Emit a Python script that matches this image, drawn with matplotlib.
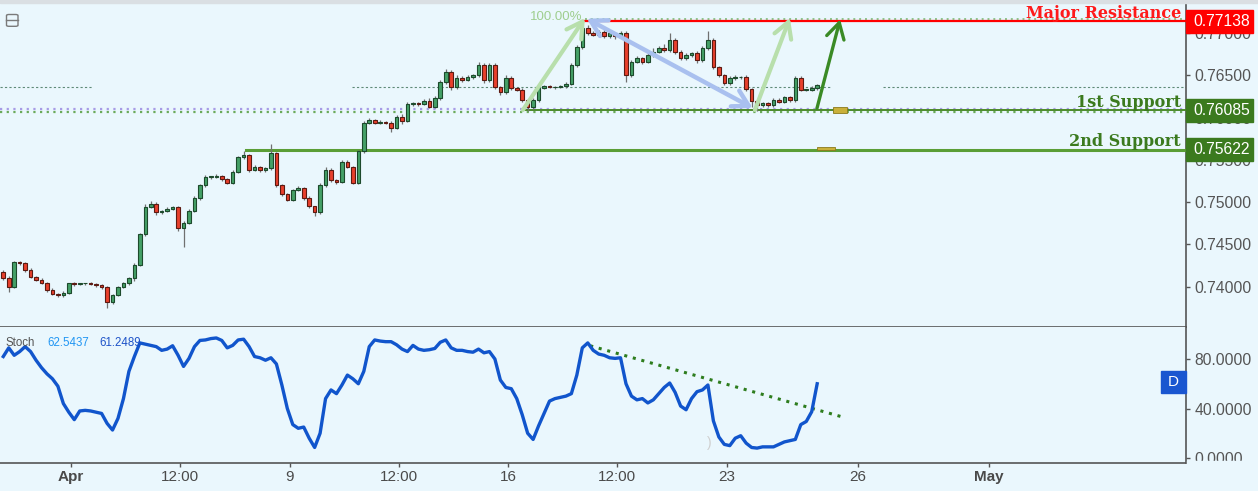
import matplotlib
matplotlib.use('Agg')
import matplotlib.pyplot as plt
from matplotlib.patches import Rectangle, FancyBboxPatch
import numpy as np

W, H = 1258, 491
BG = '#eaf7fd'
GRAY = '#555555'

# 3-hour candles, x measured in trading days from Mon Apr 2
first_bar_day = -1.55
bars_per_day = 8
first_open = 7418
# closes in 1e-4 units
closes = [
    7410, 7400, 7429, 7428, 7420, 7412, 7408, 7405, 7396, 7392,
    7390, 7393, 7404, 7403, 7404, 7404, 7403, 7402, 7400, 7382,
    7390, 7400, 7404, 7410, 7426, 7462, 7494, 7498, 7488, 7490,
    7492, 7494, 7469, 7476, 7490, 7505, 7520, 7530, 7530, 7531,
    7527, 7523, 7536, 7553, 7556, 7538, 7542, 7538, 7540, 7558,
    7520, 7510, 7503, 7514, 7517, 7505, 7495, 7488, 7520, 7538,
    7526, 7524, 7548, 7542, 7523, 7560, 7594, 7597, 7594, 7595,
    7594, 7588, 7601, 7596, 7616, 7617, 7616, 7620, 7613, 7623,
    7642, 7654, 7636, 7647, 7644, 7648, 7650, 7662, 7644, 7662,
    7636, 7630, 7647, 7635, 7633, 7621, 7612, 7621, 7635, 7637,
    7636, 7636, 7637, 7640, 7662, 7683, 7706, 7700, 7698, 7701,
    7696, 7700, 7696, 7700, 7650, 7666, 7670, 7666, 7674, 7678,
    7682, 7680, 7692, 7678, 7670, 7674, 7676, 7668, 7682, 7692,
    7660, 7650, 7641, 7647, 7648, 7648, 7634, 7620, 7615, 7617,
    7615, 7621, 7619, 7624, 7621, 7647, 7633, 7633, 7635, 7638,
]
# wick lengths above / below the body, in pips
wick_hi = [
    2, 3, 2, 2, 1, 2, 1, 2, 1, 2,
    1, 2, 1, 2, 1, 1, 2, 1, 1, 1,
    2, 1, 2, 2, 2, 2, 4, 3, 2, 1,
    2, 2, 1, 2, 2, 2, 2, 2, 1, 2,
    1, 2, 2, 2, 4, 1, 2, 1, 2, 11,
    1, 2, 1, 2, 2, 1, 2, 1, 3, 4,
    2, 1, 2, 2, 1, 2, 2, 2, 1, 2,
    1, 2, 2, 3, 2, 2, 1, 2, 3, 2,
    3, 4, 2, 3, 2, 2, 2, 4, 2, 3,
    2, 1, 3, 2, 1, 2, 1, 2, 2, 1,
    2, 1, 2, 2, 2, 3, 8, 3, 2, 2,
    2, 3, 1, 2, 2, 2, 3, 2, 2, 4,
    3, 5, 8, 2, 2, 2, 2, 3, 3, 10,
    2, 1, 2, 2, 2, 1, 2, 1, 1, 2,
    1, 2, 2, 2, 2, 2, 2, 1, 2, 2,
]
wick_lo = [
    2, 6, 2, 2, 2, 2, 1, 2, 2, 2,
    2, 2, 1, 2, 1, 2, 1, 2, 3, 7,
    2, 1, 2, 2, 3, 2, 2, 1, 3, 2,
    2, 1, 3, 22, 2, 2, 2, 2, 2, 1,
    2, 2, 2, 1, 2, 2, 1, 2, 2, 2,
    2, 3, 2, 2, 1, 2, 2, 4, 2, 2,
    2, 2, 1, 2, 2, 2, 2, 1, 2, 2,
    2, 5, 2, 3, 1, 2, 2, 1, 2, 2,
    2, 2, 3, 2, 2, 1, 2, 2, 3, 2,
    2, 3, 2, 2, 2, 3, 4, 2, 2, 1,
    1, 2, 1, 2, 2, 2, 2, 2, 2, 3,
    2, 2, 3, 2, 8, 2, 2, 3, 2, 2,
    2, 2, 2, 3, 2, 2, 2, 3, 2, 2,
    2, 2, 3, 2, 2, 2, 2, 8, 7, 2,
    2, 2, 2, 2, 2, 2, 2, 2, 2, 2,
]
stoch = [
    82, 89, 83, 86, 90, 86, 79, 73, 68, 64,
    58, 44, 37, 31, 38, 38.5, 38, 37, 36, 28,
    22.6, 32, 48, 70, 82, 93, 92, 91, 90, 87,
    88, 90.7, 83, 74, 80.5, 90, 95, 95.4, 96.5, 97,
    95, 89, 91, 95.4, 96, 90, 82, 81, 79, 81,
    76, 59, 40, 27, 24, 25, 16, 8.5, 20, 48,
    55, 52, 59, 67, 64, 60, 70, 90, 95.4, 94.5,
    94, 94, 91.5, 88, 86, 91, 88, 87, 87.5, 88.5,
    93.5, 95.4, 89, 87, 87, 86, 85.5, 88, 85, 86,
    80, 63, 57, 56, 48, 35, 20, 15, 26, 36,
    46, 48, 49, 50, 52, 67, 89, 93, 87, 84,
    83, 81, 80.5, 81, 60, 50, 47, 48, 44.5, 47,
    52, 57, 60.6, 53, 42, 39, 48, 53.6, 55, 59,
    30, 17, 11, 10, 16, 18, 12, 8.5, 8, 9,
    9, 9, 11, 13, 14, 15, 27, 29.5, 37.4, 60,
]
stoch_k, stoch_d = '62.5437', '61.2489'

levels = [0.77138, 0.76085, 0.75622]
level_names = ['Major Resistance', '1st Support', '2nd Support']
level_colors = ['#ff1a1a', '#3b7a1e', '#3b7a1e']
level_start = [11.72, 10.34, 4.0]
last_price = 0.76362

price_ticks = [0.740, 0.745, 0.750, 0.755, 0.760, 0.765, 0.770]
stoch_ticks = [0, 40, 80]
x_ticks = [0, 2.5, 5, 7.5, 10, 12.5, 15, 18, 21]
x_labels = ['Apr', '12:00', '9', '12:00', '16', '12:00', '23', '26', 'May']

# drawn pattern: (start day, start price, end day, end price)
leg_up1 = (10.34, 0.76090, 11.76, 0.77177)
leg_down = (11.80, 0.77170, 15.60, 0.76113)
leg_up2 = (15.65, 0.76090, 16.45, 0.77177)
leg_proj = (17.07, 0.76110, 17.60, 0.77160)
stoch_trend = ([11.88, 17.71], [90.7, 32.6])

plt.rcParams['font.family'] = ['Liberation Sans', 'DejaVu Sans']

fig = plt.figure(figsize=(W / 100, H / 100), dpi=100, facecolor=BG)
ax = fig.add_axes([0, 1 - 327 / H, 1186 / W, 324 / H], facecolor=BG)
sx = fig.add_axes([0, 1 - 463 / H, 1186 / W, 136 / H], facecolor=BG)

xmin, xmax = -1.625, 25.515
ax.set_xlim(xmin, xmax)
sx.set_xlim(xmin, xmax)
ax.set_ylim(0.735248, 0.773546)
sx.set_ylim(-4.04, 105.86)

# candles
xs = first_bar_day + np.arange(len(closes)) / bars_per_day
c = np.array(closes) * 1e-4
o = np.array([first_open] + closes[:-1]) * 1e-4
hi = np.maximum(o, c) + np.array(wick_hi) * 1e-4
lo = np.minimum(o, c) - np.array(wick_lo) * 1e-4
up = c >= o
body = np.maximum(np.abs(c - o), 0.00004)
bottom = np.minimum(o, c)
ax.vlines(xs, lo, hi, color='#707070', lw=0.9, zorder=4)
ax.bar(xs[up], body[up], bottom=bottom[up], width=0.082, color='#45a067',
       edgecolor='#1d4a2c', linewidth=0.8, zorder=5)
ax.bar(xs[~up], body[~up], bottom=bottom[~up], width=0.082, color='#e8402c',
       edgecolor='#5c1a12', linewidth=0.8, zorder=5)

# last price dashed line
for a, b in [(xmin, 0.5), (6.43, 17.37), (18.58, xmax)]:
    ax.plot([a, b], [last_price, last_price], color='#5f8a78', lw=0.8,
            ls=(0, (2, 2)), zorder=2)

# support / resistance
ax.plot([xmin, xmax], [0.76107, 0.76107], color='#a79be6', lw=1.6,
        ls=(0, (1, 2)), zorder=2)
ax.plot([xmin, xmax], [0.76062, 0.76062], color='#6aaa5a', lw=1.6,
        ls=(0, (1, 2)), zorder=2)
ax.plot([11.76, xmax], [0.77165, 0.77165], color='#8cc68c', lw=1.4,
        ls=(0, (1, 2)), zorder=2)
widths = [1.6, 1.4, 2.2]
line_cols = ['#ff0000', '#4c8a2a', '#5a9e36']
for lv, st, lc, lw in zip(levels, level_start, line_cols, widths):
    ax.plot([st, xmax], [lv, lv], color=lc, lw=lw, zorder=3)
for (x0, y0, w, h) in [(17.44, 0.76054, 0.32, 0.00071), (17.07, 0.75617, 0.41, 0.00035)]:
    ax.add_patch(Rectangle((x0, y0), w, h, facecolor='#c9b03a',
                           edgecolor='#8c7a1c', lw=0.6, zorder=3))

for name, lv, col in zip(level_names, levels, level_colors):
    ax.annotate(name, xy=(1181 / 1186, lv), xycoords=('axes fraction', 'data'),
                xytext=(0, 2.5), textcoords='offset points', ha='right',
                va='baseline', color=col, fontsize=11.5, fontweight='bold',
                family='DejaVu Serif', zorder=8)

# pattern arrows
def arrow(leg, col, lw, style='->'):
    ax.annotate('', xy=(leg[2], leg[3]), xytext=(leg[0], leg[1]),
                arrowprops=dict(arrowstyle=style + ',head_length=0.7,head_width=0.4',
                                color=col, lw=lw, shrinkA=0, shrinkB=0,
                                mutation_scale=16), zorder=6)

arrow(leg_up1, '#b8dfac', 3)
arrow(leg_down, '#a9c0ef', 3.2, '<->')
arrow(leg_up2, '#b8dfac', 3)
arrow(leg_proj, '#3a8a25', 2.4)
ax.text(11.70, 0.77185, '100.00%', ha='right', va='center', color='#9fce8f',
        fontsize=9.5, zorder=7)

# price axis
ax.yaxis.tick_right()
ax.set_yticks(price_ticks)
ax.set_yticklabels(['%.5f' % t for t in price_ticks])
ax.tick_params(axis='y', length=3, width=1, color=GRAY, labelcolor=GRAY,
               labelsize=11.3, pad=3)
ax.tick_params(axis='x', bottom=False, labelbottom=False)
for s in ['top', 'left']:
    ax.spines[s].set_visible(False)
for s in ['bottom', 'right']:
    ax.spines[s].set_color(GRAY)
    ax.spines[s].set_linewidth(1.2)

# stochastic panel
sx.plot(xs, stoch, color='#1155cc', lw=2.4, solid_joinstyle='round', zorder=4)
sx.plot(stoch_trend[0], stoch_trend[1], color='#2e7d1e', lw=2.2,
        ls=(0, (1, 1.9)), zorder=3)
sx.text(14.6, 12, ')', color='#cfcfcf', fontsize=10, ha='center', va='center')
sx.yaxis.tick_right()
sx.set_yticks(stoch_ticks)
sx.set_yticklabels(['%.4f' % t for t in stoch_ticks])
sx.tick_params(axis='y', length=3, width=1, color=GRAY, labelcolor=GRAY,
               labelsize=11.3, pad=3)
sx.set_xticks(x_ticks)
sx.set_xticklabels(x_labels)
sx.tick_params(axis='x', length=3, width=1, color=GRAY, labelcolor='#4a4a4a',
               labelsize=11, pad=2)
for lbl in sx.get_xticklabels():
    if lbl.get_text() in ('Apr', 'May'):
        lbl.set_fontweight('bold')
for s in ['top', 'left']:
    sx.spines[s].set_visible(False)
for s in ['bottom', 'right']:
    sx.spines[s].set_color(GRAY)
    sx.spines[s].set_linewidth(1.2)

# figure overlays
def fx(px):
    return px / W

def fy(py):
    return 1 - py / H

fig.add_artist(Rectangle((fx(1187), 0), fx(71), fy(461), transform=fig.transFigure,
                         color=BG, zorder=1))
fig.add_artist(Rectangle((0, fy(3)), 1, 3 / H, transform=fig.transFigure,
                         color='#dadfe3', zorder=1))
box_cols = ['#ff0000', '#3b7a1e', '#3b7a1e']
for lv, bc in zip(levels, box_cols):
    yd = ax.transData.transform((0, lv))[1]
    fig.add_artist(Rectangle((fx(1186), (yd - 11.5) / H), fx(67), 23 / H,
                             transform=fig.transFigure, color=bc, zorder=2))
    fig.text(fx(1193), yd / H, '%.5f' % lv, color='white', fontsize=11.3,
             ha='left', va='center', zorder=3)

fig.add_artist(Rectangle((fx(1161), fy(393)), fx(24.5), 22 / H,
                         transform=fig.transFigure, color='#1a56d0', zorder=2))
fig.text(fx(1173.2), fy(382), 'D', color='white', fontsize=11, ha='center',
         va='center', zorder=3)

fig.text(fx(6), fy(343), 'Stoch', color=GRAY, fontsize=8.3, va='center')
fig.text(fx(47.5), fy(343), stoch_k, color='#2196f3', fontsize=8.3, va='center')
fig.text(fx(99), fy(343), stoch_d, color='#1e53c8', fontsize=8.3, va='center')

fig.add_artist(FancyBboxPatch((fx(6.5), fy(26.3)), fx(11.5), 11.8 / H,
                              boxstyle='round,pad=0,rounding_size=0.002',
                              transform=fig.transFigure, fill=False,
                              edgecolor='#7a7a7a', lw=1, zorder=2))
fig.add_artist(plt.Line2D([fx(6.5), fx(18)], [fy(20.4), fy(20.4)],
                          transform=fig.transFigure, color='#7a7a7a', lw=1, zorder=2))

fig.savefig('out.png', dpi=100, facecolor=BG)
